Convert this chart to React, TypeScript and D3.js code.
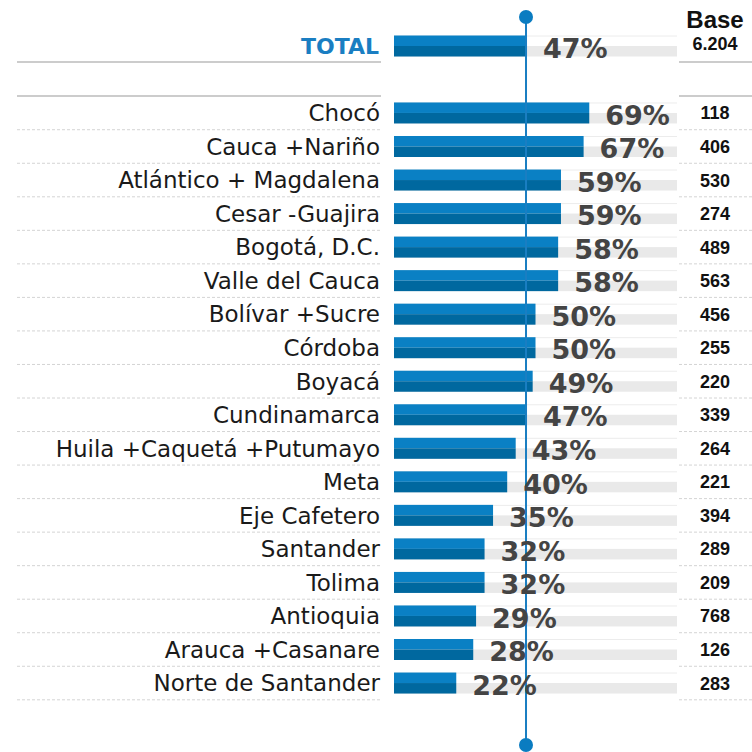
import React from "react";
import * as d3 from "d3";

const categories = [
  "Chocó", "Cauca +Nariño", "Atlántico + Magdalena", "Cesar -Guajira", "Bogotá, D.C.",
  "Valle del Cauca", "Bolívar +Sucre", "Córdoba", "Boyacá", "Cundinamarca",
  "Huila +Caquetá +Putumayo", "Meta", "Eje Cafetero", "Santander", "Tolima",
  "Antioquia", "Arauca +Casanare", "Norte de Santander",
];
const values = [69, 67, 59, 59, 58, 58, 50, 50, 49, 47, 43, 40, 35, 32, 32, 29, 28, 22];
const bases = ["118", "406", "530", "274", "489", "563", "456", "255", "220", "339", "264", "221", "394", "289", "209", "768", "126", "283"];
const totalLabel = "TOTAL";
const totalValue = 47;
const totalBase = "6.204";
const baseTitle = "Base";

const W = 752, H = 752;
const FONT = "'DejaVu Sans', sans-serif";
const ARIAL = "'Liberation Sans', Arial, sans-serif";
const LIGHT = "#0a80c4";
const DARK = "#00689f";

export default function App() {
  const x = d3.scaleLinear().domain([0, 100]).range([394, 677]);
  const y = d3.scaleBand<string>().domain(categories).range([96.2, 699.8]);
  const bh = 21;
  const totalY = 46;

  const bar = (v: number, cy: number, key: string) => (
    <g key={key}>
      <line x1={x(0)} x2={x(100)} y1={cy - bh / 2 + 0.5} y2={cy - bh / 2 + 0.5} stroke="#ececec" />
      <rect x={x(0)} y={cy} width={x(100) - x(0)} height={bh / 2} fill="#e9e9e9" />
      <rect x={x(0)} y={cy - bh / 2} width={x(v) - x(0)} height={bh / 2} fill={LIGHT} />
      <rect x={x(0)} y={cy} width={x(v) - x(0)} height={bh / 2} fill={DARK} />
    </g>
  );

  const refX = x(totalValue) - 1;

  return (
    <svg width={W} height={H} style={{ position: "absolute", left: 0, top: 0, display: "block", background: "#fff" }}>
      {/* header lines */}
      <line x1={17} x2={381} y1={62} y2={62} stroke="#999" strokeWidth={1.2} />
      <line x1={17} x2={381} y1={96} y2={96} stroke="#999" strokeWidth={1.2} />
      <line x1={679} x2={752} y1={62} y2={62} stroke="#999" strokeWidth={1.2} />
      <line x1={679} x2={752} y1={96} y2={96} stroke="#999" strokeWidth={1.2} />

      {/* row separators */}
      {categories.map((c) => {
        const yb = (y(c) as number) + y.bandwidth();
        return (
          <g key={"sep" + c}>
            <line x1={17} x2={381} y1={yb} y2={yb} stroke="#d4d4d4" strokeDasharray="3,2" />
            <line x1={679} x2={752} y1={yb} y2={yb} stroke="#d4d4d4" strokeDasharray="3,2" />
          </g>
        );
      })}

      {/* total */}
      <text x={379} y={totalY} dy="0.36em" textAnchor="end" fill="#1a7ec2" fontFamily={FONT} fontWeight="bold" fontSize={22}>{totalLabel}</text>
      {bar(totalValue, totalY, "total")}

      {/* bars */}
      {categories.map((c, i) => bar(values[i], (y(c) as number) + y.bandwidth() / 2, "b" + c))}

      {/* reference line */}
      <line x1={refX} x2={refX} y1={17} y2={745} stroke="#1a7ec2" strokeWidth={2} />
      <circle cx={refX} cy={17} r={7} fill="#0a7cc1" />
      <circle cx={refX} cy={745} r={7} fill="#0a7cc1" />

      {/* category labels */}
      {categories.map((c) => (
        <text key={"l" + c} x={380} y={(y(c) as number) + y.bandwidth() / 2} dy="0.36em" textAnchor="end" fill="#1a1a1a" fontFamily={FONT} fontSize={23}>{c}</text>
      ))}

      {/* percent labels */}
      <text x={x(totalValue) + 16} y={totalY + 2} dy="0.36em" fill="#444" fontFamily={FONT} fontWeight="bold" fontSize={27}>{totalValue}%</text>
      {categories.map((c, i) => (
        <text key={"p" + c} x={x(values[i]) + 16} y={(y(c) as number) + y.bandwidth() / 2 + 2} dy="0.36em" fill="#444" fontFamily={FONT} fontWeight="bold" fontSize={27}>{values[i]}%</text>
      ))}

      {/* base column */}
      <text x={715} y={19} dy="0.36em" textAnchor="middle" fill="#111" fontFamily={ARIAL} fontWeight="bold" fontSize={24}>{baseTitle}</text>
      <text x={715} y={44} dy="0.36em" textAnchor="middle" fill="#111" fontFamily={ARIAL} fontWeight="bold" fontSize={18}>{totalBase}</text>
      {categories.map((c, i) => (
        <text key={"n" + c} x={715} y={(y(c) as number) + y.bandwidth() / 2} dy="0.36em" textAnchor="middle" fill="#111" fontFamily={ARIAL} fontWeight="bold" fontSize={18}>{bases[i]}</text>
      ))}
    </svg>
  );
}
